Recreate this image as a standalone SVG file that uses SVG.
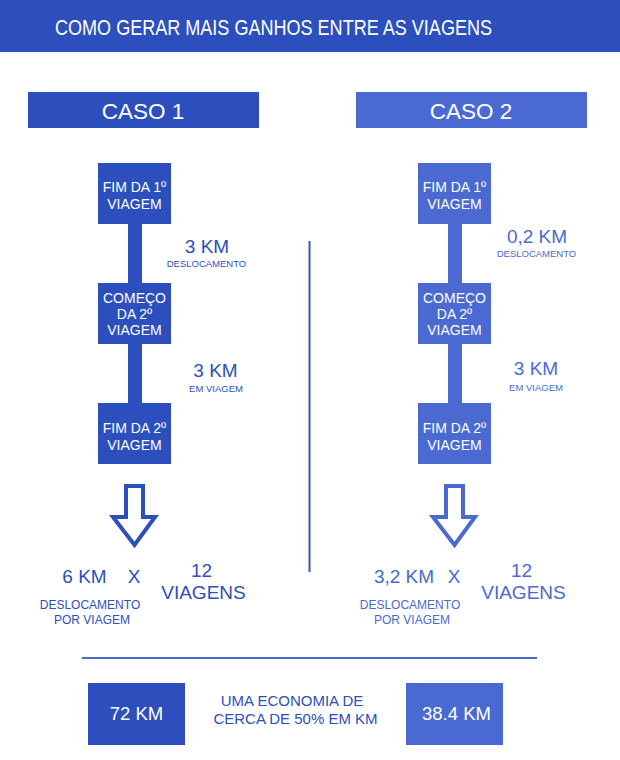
<svg xmlns="http://www.w3.org/2000/svg" width="620" height="760" viewBox="0 0 620 760">
<style>
text{font-family:"Liberation Sans",Arial,sans-serif}
.d{fill:#2c4fbd}
.l{fill:#4a6ad2}
.w{fill:#ffffff;text-anchor:middle}
.nt{font-size:14px}
.km{font-size:19px;text-anchor:middle}
.sm{font-size:9.5px;text-anchor:middle}
.td{fill:#2c4fbd}
.tl{fill:#4a6ad2}
.arr{fill:none;stroke-width:4;stroke-linejoin:miter}
</style>
<rect x="0" y="0" width="620" height="52" class="d"/>
<text x="55" y="35" fill="#fff" font-size="22" textLength="437" lengthAdjust="spacingAndGlyphs">COMO GERAR MAIS GANHOS ENTRE AS VIAGENS</text>

<g id="caso1">
<rect x="28" y="92" width="231" height="36" class="d"/>
<text x="143" y="119" class="w" font-size="22.5">CASO 1</text>
</g>
<g id="caso2">
<rect x="356" y="92" width="231" height="36" class="l"/>
<text x="471" y="119" class="w" font-size="22.5">CASO 2</text>
</g>

<g id="connectors">
<rect x="128" y="224" width="14" height="59" class="d"/>
<rect x="128" y="344" width="14" height="59" class="d"/>
<rect x="448" y="224" width="14" height="59" class="l"/>
<rect x="448" y="344" width="14" height="59" class="l"/>
<line x1="309.5" y1="241" x2="309.5" y2="572" stroke="#3a59b5" stroke-width="2"/>
<path d="M126,486 H143 V517 H155 L134.5,545 L113,517 H126 Z" class="arr" stroke="#2c4fbd"/>
<path d="M446,486 H463 V517 H475 L454.5,545 L433,517 H446 Z" class="arr" stroke="#4a6ad2"/>
<line x1="82" y1="658" x2="537" y2="658" stroke="#4a6ad2" stroke-width="2"/>
</g>

<g id="c1n1">
<rect x="98" y="163" width="73" height="61" class="d"/>
<text x="134.5" y="192" class="w nt">FIM DA 1º</text>
<text x="134.5" y="209" class="w nt">VIAGEM</text>
</g>
<g id="c1n2">
<rect x="98" y="283" width="73" height="61" class="d"/>
<text x="134.5" y="303" class="w nt">COMEÇO</text>
<text x="134.5" y="319" class="w nt">DA 2º</text>
<text x="134.5" y="335" class="w nt">VIAGEM</text>
</g>
<g id="c1n3">
<rect x="98" y="403" width="73" height="61" class="d"/>
<text x="134.5" y="433" class="w nt">FIM DA 2º</text>
<text x="134.5" y="450" class="w nt">VIAGEM</text>
</g>

<g id="c2n1">
<rect x="418" y="163" width="73" height="61" class="l"/>
<text x="454.5" y="192" class="w nt">FIM DA 1º</text>
<text x="454.5" y="209" class="w nt">VIAGEM</text>
</g>
<g id="c2n2">
<rect x="418" y="283" width="73" height="61" class="l"/>
<text x="454.5" y="303" class="w nt">COMEÇO</text>
<text x="454.5" y="319" class="w nt">DA 2º</text>
<text x="454.5" y="335" class="w nt">VIAGEM</text>
</g>
<g id="c2n3">
<rect x="418" y="403" width="73" height="61" class="l"/>
<text x="454.5" y="433" class="w nt">FIM DA 2º</text>
<text x="454.5" y="450" class="w nt">VIAGEM</text>
</g>

<g id="c1labels">
<text x="207" y="253" class="km td">3 KM</text>
<text x="206.5" y="267" class="sm td">DESLOCAMENTO</text>
<text x="215.5" y="377" class="km td">3 KM</text>
<text x="216" y="392" class="sm td">EM VIAGEM</text>
<text x="84.5" y="583" class="km td">6 KM</text>
<text x="134" y="583" class="km td">X</text>
<text x="201.5" y="577" class="km td">12</text>
<text x="203.5" y="599" class="km td">VIAGENS</text>
<text x="90" y="609" font-size="12" text-anchor="middle" class="td">DESLOCAMENTO</text>
<text x="92" y="624" font-size="12" text-anchor="middle" class="td">POR VIAGEM</text>
</g>

<g id="c2labels">
<text x="537" y="243" class="km tl">0,2 KM</text>
<text x="536.5" y="257" class="sm tl">DESLOCAMENTO</text>
<text x="536" y="375" class="km tl">3 KM</text>
<text x="536" y="391" class="sm tl">EM VIAGEM</text>
<text x="404" y="583" class="km tl">3,2 KM</text>
<text x="454" y="583" class="km tl">X</text>
<text x="521.5" y="577" class="km tl">12</text>
<text x="523.5" y="599" class="km tl">VIAGENS</text>
<text x="410" y="609" font-size="12" text-anchor="middle" class="tl">DESLOCAMENTO</text>
<text x="412" y="624" font-size="12" text-anchor="middle" class="tl">POR VIAGEM</text>
</g>

<g id="total1">
<rect x="88" y="683" width="97" height="62" class="d"/>
<text x="136.5" y="720" class="w" font-size="18.5">72 KM</text>
</g>
<g id="economia">
<text x="292" y="706" font-size="15" text-anchor="middle" class="td">UMA ECONOMIA DE</text>
<text x="295.5" y="724" font-size="15" text-anchor="middle" class="td">CERCA DE 50% EM KM</text>
</g>
<g id="total2">
<rect x="406" y="683" width="97" height="62" class="l"/>
<text x="456.5" y="720" class="w" font-size="18.5">38.4 KM</text>
</g>
</svg>
